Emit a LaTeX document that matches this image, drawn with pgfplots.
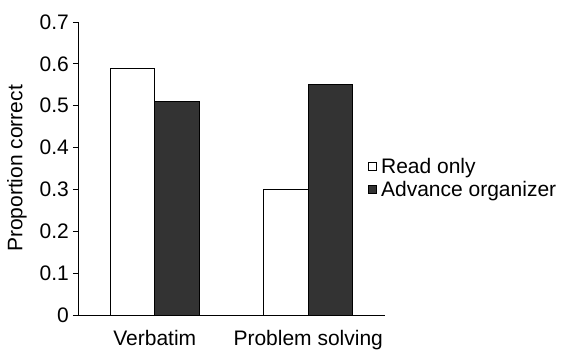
\documentclass[border=0pt]{standalone}
\usepackage{pgfplots}
\pgfplotsset{compat=1.18}
\usepackage{fontspec}
\setmainfont{Liberation Sans}
\definecolor{darkbar}{HTML}{333333}
\begin{document}
\begin{tikzpicture}[font=\fontsize{21bp}{24bp}\selectfont]
% canvas frame
\path[use as bounding box] (-78bp,-35bp) rectangle (485bp,315bp);
\begin{axis}[
  at={(0,0)}, anchor=south west,
  scale only axis,
  width=307bp, height=293bp,
  xmin=0, xmax=2, ymin=0, ymax=0.7,
  axis x line*=bottom, axis y line*=left,
  axis line style={line width=0.9bp},
  tick style={line width=0.9bp, black},
  tick align=outside,
  major tick length=5bp,
  ytick={0,0.1,...,0.7},
  yticklabel style={/pgf/number format/fixed, /pgf/number format/precision=1, inner xsep=4bp},
  /pgf/number format/assume math mode=true,
  xtick={0.5,1.5},
  xticklabels={Verbatim, Problem solving},
  xtick style={draw=none},
  xticklabel style={inner ysep=0bp, yshift=-10bp},
  extra x ticks={0,1,2},
  extra x tick labels={,,},
  extra x tick style={major tick length=4bp, tick style={draw=black, line width=0.9bp}},
  ylabel={Proportion correct},
  ylabel style={at={(axis description cs:-0.199,0.5)}, anchor=center},
  ybar=0pt, bar width=0.29,
  legend style={draw=none, fill=none, at={(rel axis cs:0.945,0.468)}, anchor=west,
    inner sep=0pt, row sep=2bp, nodes={inner xsep=4bp}},
  legend cell align=left,
  clip=false,
]
\addplot[draw=black, line width=0.8bp, fill=white,
  legend image code/.code={\draw[draw=black, line width=0.8bp, fill=white] (0bp,-4bp) rectangle (8bp,4bp);}]
  coordinates {(0.5,0.59) (1.5,0.30)};
\addlegendentry{Read only}
\addplot[draw=black, line width=0.8bp, fill=darkbar,
  legend image code/.code={\draw[draw=black, line width=0.8bp, fill=darkbar] (0bp,-4bp) rectangle (8bp,4bp);}]
  coordinates {(0.5,0.51) (1.5,0.55)};
\addlegendentry{Advance organizer}
\end{axis}
\end{tikzpicture}
\end{document}
